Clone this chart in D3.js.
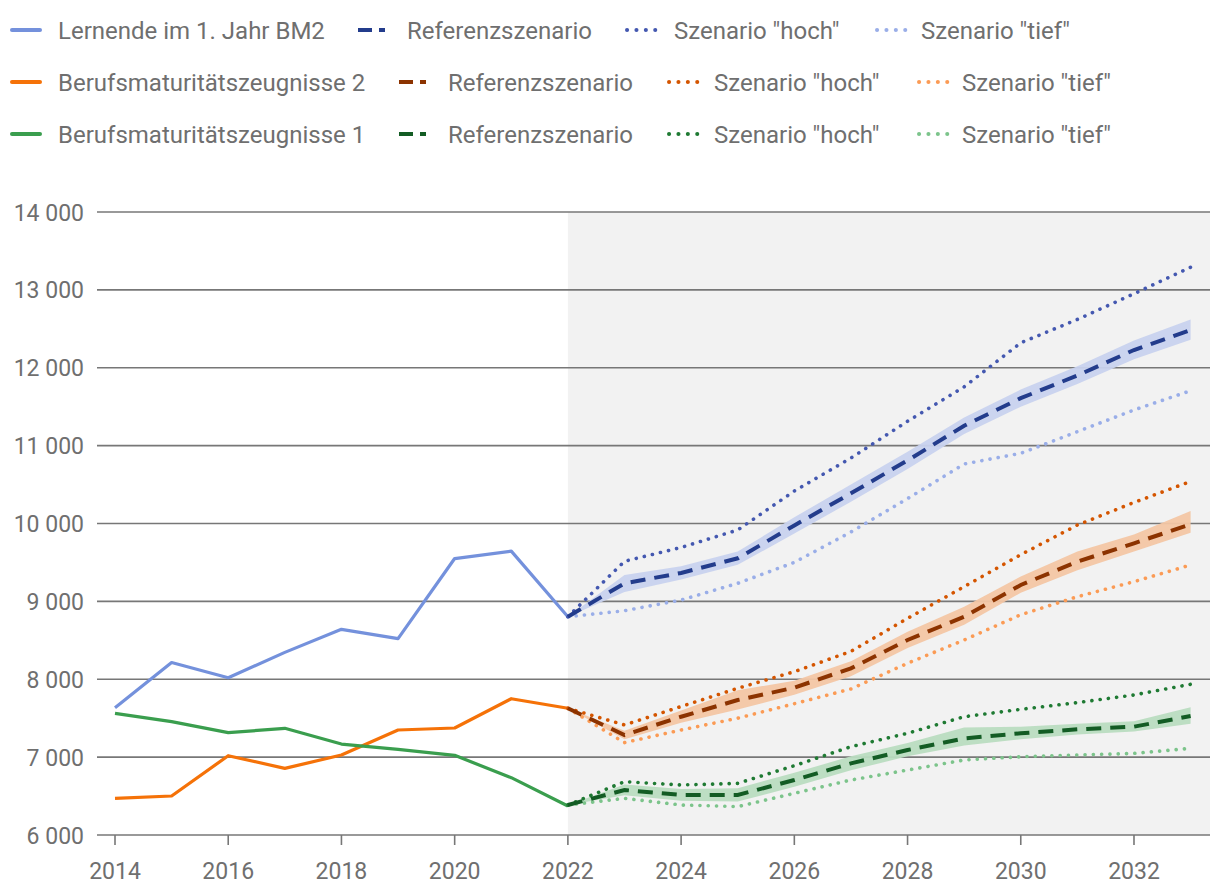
<!DOCTYPE html>
<html><head><meta charset="utf-8">
<script src="https://cdn.jsdelivr.net/npm/d3@7"></script>
<style>body{margin:0;background:#fff;font-family:Roboto,"Noto Sans",sans-serif;}</style>
</head><body><svg id="c" width="1220" height="896"></svg>
<script>
const histYears = [2014,2015,2016,2017,2018,2019,2020,2021,2022];
const projYears = [2022,2023,2024,2025,2026,2027,2028,2029,2030,2031,2032,2033];
const yTicks = [6000,7000,8000,9000,10000,11000,12000,13000,14000];
const xTicks = [2014,2016,2018,2020,2022,2024,2026,2028,2030,2032];

const lernendeHist = [7635,8215,8020,8345,8641,8521,9550,9645,8803];
const bm2Hist = [6471,6501,7018,6856,7027,7348,7374,7750,7627];
const bm1Hist = [7562,7455,7314,7370,7168,7100,7023,6736,6372];

const lernendeRef  = [8803,9232,9365,9553,9975,10388,10810,11255,11610,11900,12228,12485];
const lernendeLow  = [8803,9120,9280,9470,9870,10280,10700,11150,11500,11790,12110,12360];
const lernendeHigh = [8803,9340,9450,9640,10080,10500,10920,11360,11720,12020,12350,12620];
const lernendeHoch = [8803,9515,9692,9917,10417,10841,11313,11755,12320,12620,12950,13290];
const lernendeTief = [8803,8880,9017,9232,9501,9891,10320,10764,10901,11179,11458,11705];

const bm2Ref  = [7627,7284,7519,7733,7892,8140,8504,8803,9210,9510,9746,9990];
const bm2Low  = [7627,7228,7440,7610,7800,8040,8400,8700,9110,9400,9640,9880];
const bm2High = [7627,7340,7600,7860,7980,8230,8610,8930,9320,9640,9860,10160];
const bm2Hoch = [7627,7413,7650,7884,8097,8358,8782,9189,9600,9980,10270,10540];
const bm2Tief = [7627,7186,7348,7500,7686,7875,8205,8504,8828,9060,9253,9467];

const bm1Ref  = [6385,6578,6514,6514,6706,6920,7091,7241,7306,7357,7391,7528];
const bm1Low  = [6385,6510,6440,6430,6620,6830,7010,7150,7230,7290,7330,7430];
const bm1High = [6385,6650,6590,6600,6800,7010,7180,7380,7390,7430,7460,7640];
const bm1Hoch = [6385,6685,6642,6663,6890,7134,7306,7519,7614,7700,7798,7935];
const bm1Tief = [6385,6471,6385,6364,6535,6706,6834,6963,7005,7027,7048,7113];

const groups = [
  {name:"Lernende im 1. Jahr BM2", hist:lernendeHist, ref:lernendeRef, low:lernendeLow, high:lernendeHigh, hoch:lernendeHoch, tief:lernendeTief,
   c:{hist:"#7491dc", ref:"#233c8c", hoch:"#4458b0", tief:"#9aaee8", band:"#c8d2ee"}},
  {name:"Berufsmaturitätszeugnisse 2", hist:bm2Hist, ref:bm2Ref, low:bm2Low, high:bm2High, hoch:bm2Hoch, tief:bm2Tief,
   c:{hist:"#f57208", ref:"#8c3300", hoch:"#d45500", tief:"#fb9b55", band:"#f3c6a4"}},
  {name:"Berufsmaturitätszeugnisse 1", hist:bm1Hist, ref:bm1Ref, low:bm1Low, high:bm1High, hoch:bm1Hoch, tief:bm1Tief,
   c:{hist:"#3a9e4e", ref:"#135c24", hoch:"#1f7a33", tief:"#7cc48b", band:"#b9dcc0"}}
];

const svg = d3.select("#c");
const x = d3.scaleLinear().domain([2014,2033]).range([115,1190.6]);
const y = d3.scaleLinear().domain([6000,14000]).range([835,212]);
const left = 97, right = 1210;
const txt = "#6f6f6f";

svg.append("rect").attr("x",x(2022)).attr("y",y(14000)).attr("width",right-x(2022)).attr("height",y(6000)-y(14000)).attr("fill","#f2f2f2");

svg.append("g").selectAll("line").data(yTicks).join("line")
  .attr("x1",left).attr("x2",right).attr("y1",d=>y(d)).attr("y2",d=>y(d))
  .attr("stroke","#777").attr("stroke-width",1.6);
const fmt = d=> d3.format(",")(d).replace(/,/g," ");
svg.append("g").selectAll("text").data(yTicks).join("text")
  .attr("x",84).attr("y",d=>y(d)+8.5).attr("text-anchor","end")
  .attr("font-size",23).attr("fill",txt).text(fmt);

svg.append("g").selectAll("line").data(xTicks).join("line")
  .attr("x1",d=>x(d)).attr("x2",d=>x(d)).attr("y1",835).attr("y2",845)
  .attr("stroke","#777").attr("stroke-width",1.6);
svg.append("g").selectAll("text").data(xTicks).join("text")
  .attr("x",d=>x(d)).attr("y",879).attr("text-anchor","middle")
  .attr("font-size",23).attr("fill",txt).text(d=>d);

const line = d3.line().x(d=>x(d[0])).y(d=>y(d[1]));
const area = d3.area().x(d=>x(d[0])).y0(d=>y(d[1])).y1(d=>y(d[2]));

groups.forEach(g=>{
  svg.append("path").datum(projYears.map((yr,i)=>[yr,g.low[i],g.high[i]]))
    .attr("d",area).attr("fill",g.c.band).attr("opacity",0.95);
});
groups.forEach(g=>{
  svg.append("path").datum(histYears.map((yr,i)=>[yr,g.hist[i]]))
    .attr("d",line).attr("fill","none").attr("stroke",g.c.hist).attr("stroke-width",3.2).attr("stroke-linejoin","round");
});
groups.forEach(g=>{
  svg.append("path").datum(projYears.map((yr,i)=>[yr,g.tief[i]]))
    .attr("d",line).attr("fill","none").attr("stroke",g.c.tief).attr("stroke-width",3.6)
    .attr("stroke-linecap","round").attr("stroke-dasharray","0.1,8.2");
  svg.append("path").datum(projYears.map((yr,i)=>[yr,g.hoch[i]]))
    .attr("d",line).attr("fill","none").attr("stroke",g.c.hoch).attr("stroke-width",3.6)
    .attr("stroke-linecap","round").attr("stroke-dasharray","0.1,8.2");
  svg.append("path").datum(projYears.map((yr,i)=>[yr,g.ref[i]]))
    .attr("d",line).attr("fill","none").attr("stroke",g.c.ref).attr("stroke-width",4)
    .attr("stroke-dasharray","15,9");
});

const rows = [30,82,134];
const legCols = [
  {sx:[12,358],tx:[58,407],hx:[626,674],tf:[876,921]},
  {sx:[12,400],tx:[58,448],hx:[668,714],tf:[918,962]},
  {sx:[12,400],tx:[58,448],hx:[668,714],tf:[918,962]}
];
const fs = 24;
groups.forEach((g,i)=>{
  const yy = rows[i], L = legCols[i];
  const lg = svg.append("g");
  lg.append("line").attr("x1",L.sx[0]).attr("x2",L.sx[0]+28).attr("y1",yy).attr("y2",yy)
    .attr("stroke",g.c.hist).attr("stroke-width",4).attr("stroke-linecap","round");
  lg.append("text").attr("x",L.tx[0]).attr("y",yy+8.5).attr("font-size",fs).attr("fill",txt).text(g.name);
  lg.append("line").attr("x1",L.tx[1]-49).attr("x2",L.tx[1]-22).attr("y1",yy).attr("y2",yy)
    .attr("stroke",g.c.ref).attr("stroke-width",4).attr("stroke-dasharray","14,7");
  lg.append("text").attr("x",L.tx[1]).attr("y",yy+8.5).attr("font-size",fs).attr("fill",txt).text("Referenzszenario");
  lg.append("line").attr("x1",L.hx[0]+1).attr("x2",L.hx[0]+30).attr("y1",yy).attr("y2",yy)
    .attr("stroke",g.c.hoch).attr("stroke-width",4).attr("stroke-linecap","round").attr("stroke-dasharray","0.1,9.3");
  lg.append("text").attr("x",L.hx[1]).attr("y",yy+8.5).attr("font-size",fs).attr("fill",txt).text('Szenario "hoch"');
  lg.append("line").attr("x1",L.tf[0]+1).attr("x2",L.tf[0]+30).attr("y1",yy).attr("y2",yy)
    .attr("stroke",g.c.tief).attr("stroke-width",4).attr("stroke-linecap","round").attr("stroke-dasharray","0.1,9.3");
  lg.append("text").attr("x",L.tf[1]).attr("y",yy+8.5).attr("font-size",fs).attr("fill",txt).text('Szenario "tief"');
});
</script></body></html>
